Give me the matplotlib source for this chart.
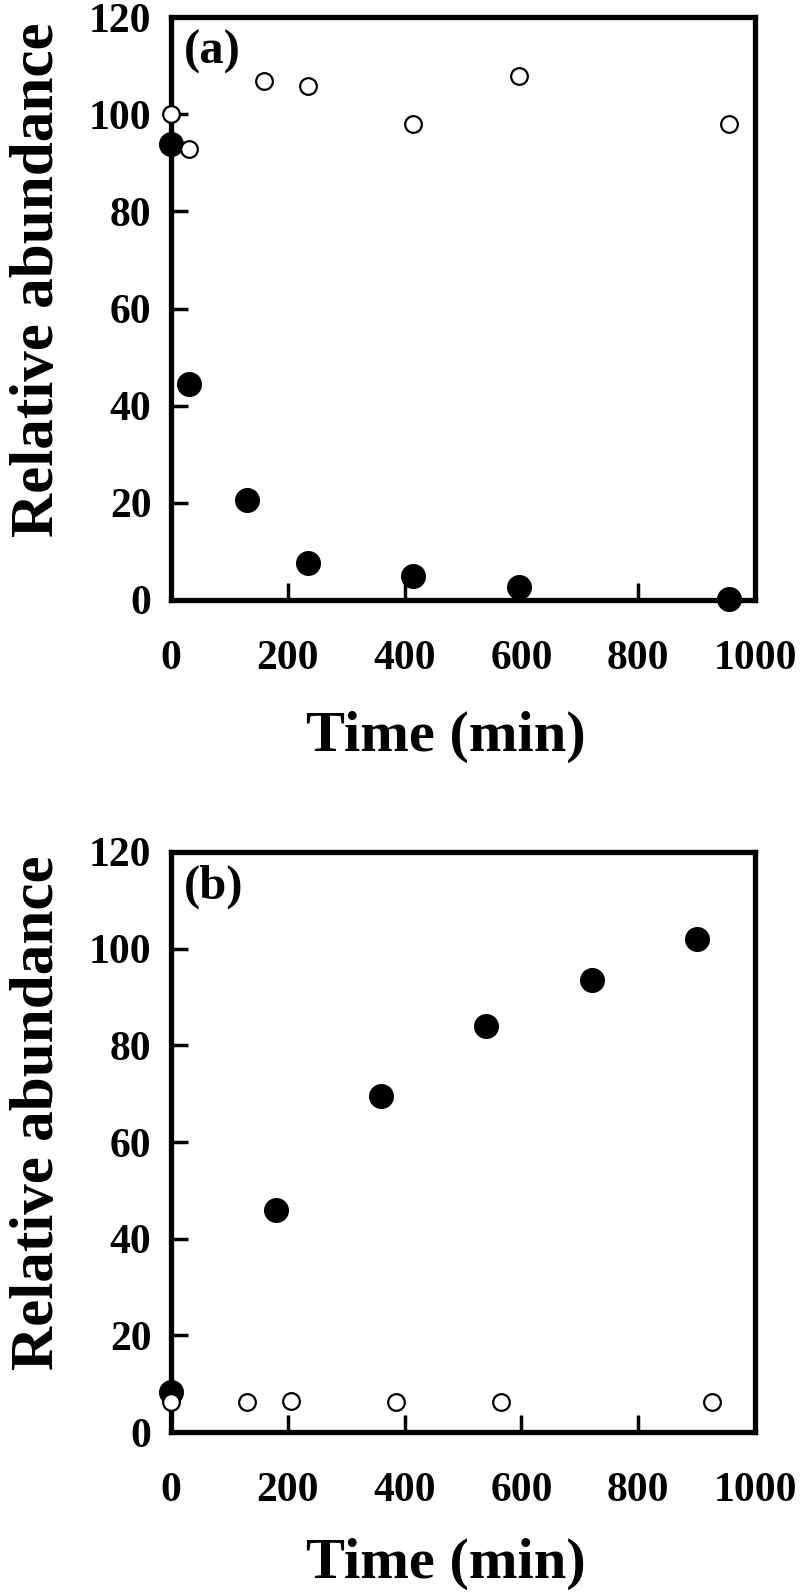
import matplotlib
matplotlib.use("Agg")
import matplotlib.pyplot as plt

plt.rcParams['font.family'] = ['Liberation Serif', 'DejaVu Serif']
plt.rcParams['font.weight'] = 'bold'

# panel (a)
a_t_filled = [0, 30, 130, 235, 415, 595, 955]
a_y_filled = [93.8, 44.5, 20.5, 7.6, 5.0, 2.7, 0.2]
a_t_open = [0, 30, 160, 235, 415, 595, 955]
a_y_open = [100, 92.8, 106.8, 105.8, 98.0, 107.9, 98.0]

# panel (b)
b_t_filled = [0, 180, 360, 540, 720, 900]
b_y_filled = [8.3, 46, 69.5, 84, 93.5, 102.1]
b_t_open = [0, 130, 205, 385, 565, 927]
b_y_open = [6.2, 6.2, 6.5, 6.2, 6.2, 6.2]

xticks = [0, 200, 400, 600, 800, 1000]
yticks = [0, 20, 40, 60, 80, 100, 120]

fig = plt.figure(figsize=(8, 15.94), dpi=100)
ax_a = fig.add_axes([0.2138, 0.6236, 0.73, 0.3657])
ax_b = fig.add_axes([0.2138, 0.1016, 0.73, 0.3639])

panels = [
    (ax_a, a_t_filled, a_y_filled, a_t_open, a_y_open, '(a)', -0.19),
    (ax_b, b_t_filled, b_y_filled, b_t_open, b_y_open, '(b)', -0.183),
]

for ax, tf, yf, to, yo, tag, xl_y in panels:
    ax.plot(tf, yf, 'o', color='black', markersize=17, clip_on=False, zorder=5)
    ax.plot(to, yo, 'o', markerfacecolor='white', markeredgecolor='black',
            markersize=12, markeredgewidth=1.6, clip_on=False, zorder=6)
    ax.set_xlim(0, 1000)
    ax.set_ylim(0, 120)
    ax.set_xticks(xticks)
    ax.set_yticks(yticks)
    ax.tick_params(direction='in', length=12, width=2.5, labelsize=30,
                   top=False, right=False)
    ax.tick_params(axis='x', pad=29)
    ax.tick_params(axis='y', pad=14)
    for s in ax.spines.values():
        s.set_linewidth(3.8)
    ax.set_xlabel('Time (min)', fontsize=42, fontweight='bold')
    ax.set_ylabel('Relative abundance', fontsize=44, fontweight='bold', va='center')
    ax.xaxis.set_label_coords(0.47, xl_y)
    ax.yaxis.set_label_coords(-0.228, 0.55)
    ax.text(0.022, 0.978, tag, transform=ax.transAxes, fontsize=35,
            fontweight='bold', ha='left', va='top')

fig.savefig('out.png', dpi=100)
